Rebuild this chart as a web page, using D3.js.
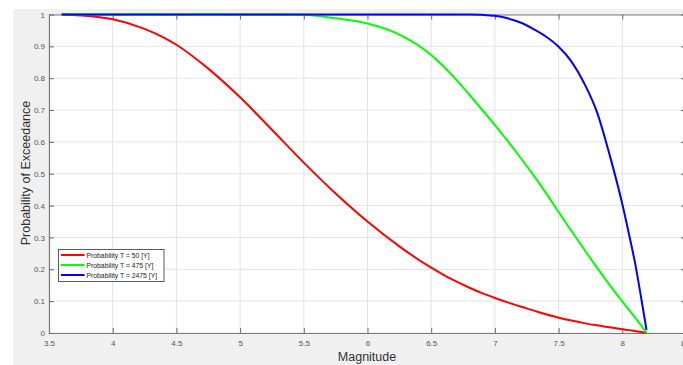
<!DOCTYPE html>
<html>
<head>
<meta charset="utf-8">
<script src="https://cdnjs.cloudflare.com/ajax/libs/d3/7.8.5/d3.min.js"></script>
<style>
  body { margin: 0; background: #fff; }
  svg { display: block; font-family: "Liberation Sans", Arial, sans-serif; }
</style>
</head>
<body>
<script>
// data
var magnitude = [3.6, 3.75, 4, 4.25, 4.5, 4.75, 5, 5.25, 5.5, 5.75, 6, 6.25, 6.5, 6.6, 6.7, 6.8, 6.9, 7, 7.1, 7.2, 7.3, 7.4, 7.5, 7.6, 7.7, 7.8, 7.9, 8, 8.05, 8.1, 8.15, 8.19];
var probT50 = [1, 0.997, 0.985, 0.955, 0.905, 0.83, 0.74, 0.638, 0.535, 0.438, 0.35, 0.272, 0.205, 0.182, 0.161, 0.142, 0.125, 0.11, 0.096, 0.083, 0.071, 0.059, 0.048, 0.039, 0.031, 0.024, 0.018, 0.012, 0.009, 0.006, 0.003, 0];
var probT475 = [1, 1, 1, 1, 1, 1, 1, 1, 0.999, 0.988, 0.972, 0.937, 0.873, 0.836, 0.794, 0.748, 0.701, 0.653, 0.603, 0.551, 0.497, 0.44, 0.38, 0.321, 0.263, 0.206, 0.151, 0.099, 0.074, 0.049, 0.023, 0];
var probT2475 = [1, 1, 1, 1, 1, 1, 1, 1, 1, 1, 1, 1, 1, 1, 1, 1, 0.999, 0.996, 0.988, 0.975, 0.955, 0.931, 0.899, 0.853, 0.785, 0.695, 0.56, 0.405, 0.315, 0.22, 0.106, 0.01];
var seriesNames = ["Probability T = 50 [Y]", "Probability T = 475 [Y]", "Probability T = 2475 [Y]"];
var seriesColors = ["#ff0000", "#00ff00", "#0000ff"];
var xTicks = [3.5, 4, 4.5, 5, 5.5, 6, 6.5, 7, 7.5, 8, 8.5];
var yTicks = [0, 0.1, 0.2, 0.3, 0.4, 0.5, 0.6, 0.7, 0.8, 0.9, 1];

var W = 683, H = 365;
var plot = {left: 49, right: 686, top: 14.5, bottom: 333};

var svg = d3.select("body").append("svg")
  .attr("width", W).attr("height", H);

// figure background
svg.append("rect").attr("x", 13).attr("y", 9)
  .attr("width", W - 13).attr("height", H - 9).attr("fill", "#f0f0f0");
svg.append("rect").attr("x", plot.left).attr("y", plot.top)
  .attr("width", plot.right - plot.left).attr("height", plot.bottom - plot.top)
  .attr("fill", "#fff");

var x = d3.scaleLinear().domain([3.5, 8.5]).range([plot.left, plot.right]);
var y = d3.scaleLinear().domain([0, 1]).range([plot.bottom, plot.top]);

// grid
svg.append("g").selectAll("line").data(xTicks).enter().append("line")
  .attr("x1", d => x(d)).attr("x2", d => x(d))
  .attr("y1", plot.top).attr("y2", plot.bottom)
  .attr("stroke", "#e3e3e3").attr("stroke-width", 1);
svg.append("g").selectAll("line").data(yTicks).enter().append("line")
  .attr("x1", plot.left).attr("x2", plot.right)
  .attr("y1", d => y(d)).attr("y2", d => y(d))
  .attr("stroke", "#e3e3e3").attr("stroke-width", 1);

// axes (ticks inward)
function styleAxis(g) {
  g.selectAll(".domain").attr("stroke", "#7a7a7a").attr("stroke-width", 1.2);
  g.selectAll(".tick line").attr("stroke", "#6a6a6a");
  g.selectAll(".tick text").attr("fill", "#555").attr("font-size", "8px")
    .attr("font-family", "Liberation Sans, Arial, sans-serif");
}
var fmt = d3.format("~g");
svg.append("g").attr("transform", "translate(0," + plot.bottom + ")")
  .call(d3.axisBottom(x).tickValues(xTicks).tickFormat(fmt).tickSizeInner(-5).tickSizeOuter(0).tickPadding(7))
  .call(styleAxis);
svg.append("g").attr("transform", "translate(0," + plot.top + ")")
  .call(d3.axisTop(x).tickValues(xTicks).tickFormat("").tickSizeInner(-5).tickSizeOuter(0))
  .call(styleAxis);
svg.append("g").attr("transform", "translate(" + plot.left + ",0)")
  .call(d3.axisLeft(y).tickValues(yTicks).tickFormat(fmt).tickSizeInner(-5).tickSizeOuter(0).tickPadding(4))
  .call(styleAxis);
svg.append("g").attr("transform", "translate(" + plot.right + ",0)")
  .call(d3.axisRight(y).tickValues(yTicks).tickFormat("").tickSizeInner(-5).tickSizeOuter(0))
  .call(styleAxis);

// curves
var allSeries = [probT50, probT475, probT2475];
var line = d3.line()
  .x((d, i) => x(magnitude[i]))
  .y(d => y(d))
  .curve(d3.curveMonotoneX);
svg.append("g").selectAll("path").data(allSeries).enter().append("path")
  .attr("d", line)
  .attr("fill", "none")
  .attr("stroke", (d, i) => seriesColors[i])
  .attr("stroke-width", 2);

// axis labels
svg.append("text").attr("x", 367).attr("y", 361)
  .attr("text-anchor", "middle").attr("font-size", "12.5px").attr("fill", "#333")
  .text("Magnitude");
svg.append("text")
  .attr("transform", "translate(30,173) rotate(-90)")
  .attr("text-anchor", "middle").attr("font-size", "12.5px").attr("fill", "#333")
  .text("Probability of Exceedance");

// legend
var lg = svg.append("g").attr("transform", "translate(58.5,249.5)");
lg.append("rect").attr("width", 105.5).attr("height", 32)
  .attr("fill", "#fff").attr("stroke", "#333").attr("stroke-width", 0.8);
var rows = lg.selectAll("g").data(seriesNames).enter().append("g")
  .attr("transform", (d, i) => "translate(0," + (5.5 + i * 10) + ")");
rows.append("line").attr("x1", 2.5).attr("x2", 26)
  .attr("stroke", (d, i) => seriesColors[i]).attr("stroke-width", 2);
rows.append("text").attr("x", 28).attr("y", 2.5)
  .attr("font-size", "6.8px").attr("fill", "#222")
  .text(d => d);
</script>
</body>
</html>
